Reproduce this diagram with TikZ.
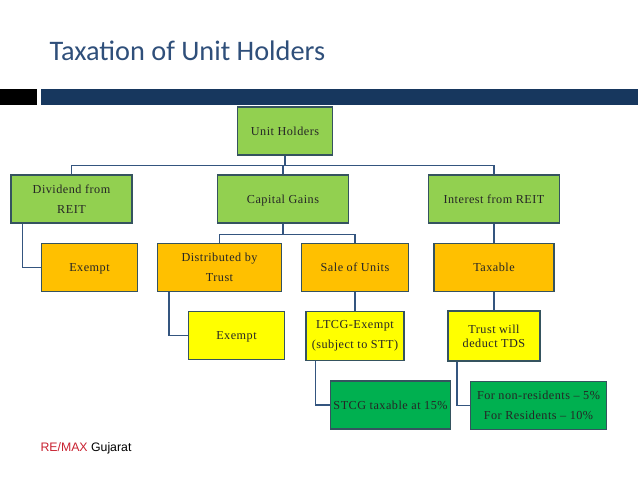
\documentclass[tikz,border=0pt]{standalone}
\usepackage{fontspec}
\setmainfont[LetterSpace=4]{Liberation Serif}
\newfontfamily\titlefont{Carlito}
\newfontfamily\footfont{Liberation Sans}
\definecolor{titlec}{HTML}{2F4F7A}
\definecolor{barc}{HTML}{17375E}
\definecolor{linec}{HTML}{34557F}
\definecolor{framec}{HTML}{35535F}
\definecolor{leafc}{HTML}{92D050}
\definecolor{orangec}{HTML}{FFC000}
\definecolor{yellowc}{HTML}{FFFF00}
\definecolor{taxc}{HTML}{00B050}
\definecolor{remaxc}{HTML}{C8202F}
\tikzset{
  box/.style={draw=framec,line width=1.1pt,inner sep=0pt,align=center,text=black!85,
    font=\fontsize{12.2}{20}\selectfont},
  oneline/.style={text height=8pt,text depth=0pt},
  link/.style={draw=linec,line width=1.1pt},
}

\begin{document}
\begin{tikzpicture}[x=1pt,y=-1pt]
\useasboundingbox (0,0) rectangle (638,479);
\fill[black] (0,89) rectangle (37,105);
\fill[barc] (41,89) rectangle (638,105);

\node[anchor=west,text=titlec,font=\titlefont\fontsize{28.3}{32}\selectfont] (title) at (46,51) {Taxation of Unit Holders};
\node[anchor=west,font=\footfont\fontsize{12.3}{14}\selectfont] (footer) at (37,448) {\textcolor{remaxc}{RE/MAX} Gujarat};

\node[box,oneline,fill=leafc,minimum width=95pt,minimum height=48pt] (unit) at (285,131) {Unit Holders};

\node[box,fill=leafc,minimum width=121pt,minimum height=48pt] (dividend) at (71.5,199) {Dividend from\\REIT};
\node[box,oneline,fill=leafc,minimum width=131pt,minimum height=48pt] (gains) at (283,199) {Capital Gains};
\node[box,oneline,fill=leafc,minimum width=131pt,minimum height=48pt] (interest) at (494,199) {Interest from REIT};

\node[box,oneline,fill=orangec,minimum width=96pt,minimum height=48pt] (exempta) at (89.5,267.5) {Exempt};
\node[box,fill=orangec,minimum width=124pt,minimum height=48pt] (distributed) at (219.5,267.5) {Distributed by\\Trust};
\node[box,oneline,fill=orangec,minimum width=107pt,minimum height=48pt] (sale) at (355,267.5) {Sale of Units};
\node[box,oneline,fill=orangec,minimum width=120pt,minimum height=48pt] (taxable) at (494,267.5) {Taxable};

\node[box,oneline,fill=yellowc,minimum width=96pt,minimum height=48pt] (exemptb) at (236.5,335.5) {Exempt};
\node[box,fill=yellowc,minimum width=98pt,minimum height=49pt] (ltcg) at (355,336) {LTCG-Exempt\\(subject to STT)};
\node[box,fill=yellowc,minimum width=92pt,minimum height=50pt,font=\fontsize{12.2}{14}\selectfont] (trust) at (494,336) {Trust will\\deduct TDS};

\node[box,oneline,fill=taxc,minimum width=120pt,minimum height=48pt] (stcg) at (390.5,405) {STCG taxable at 15\%};
\node[box,fill=taxc,minimum width=136pt,minimum height=48pt] (residents) at (538.5,405.5) {For non-residents -- 5\%\\For Residents -- 10\%};

\draw[link] (unit.south) -- ++(0,10) -| (dividend.north);
\draw[link] (unit.south) -- ++(0,10) -| (gains.north);
\draw[link] (unit.south) -- ++(0,10) -| (interest.north);
\draw[link] (gains.south) -- ++(0,10.5) -| (distributed.north);
\draw[link] (gains.south) -- ++(0,10.5) -| (sale.north);
\draw[link] (interest.south) -- (taxable.north);
\draw[link] (taxable.south) -- (trust.north);
\draw[link] (sale.south) -- (ltcg.north);
\draw[link] ([xshift=12pt]dividend.south west) |- (exempta.west);
\draw[link] ([xshift=12pt]distributed.south west) |- (exemptb.west);
\draw[link] ([xshift=10pt]ltcg.south west) |- (stcg.west);
\draw[link] ([xshift=9.5pt]trust.south west) |- (residents.west);
\end{tikzpicture}
\end{document}
